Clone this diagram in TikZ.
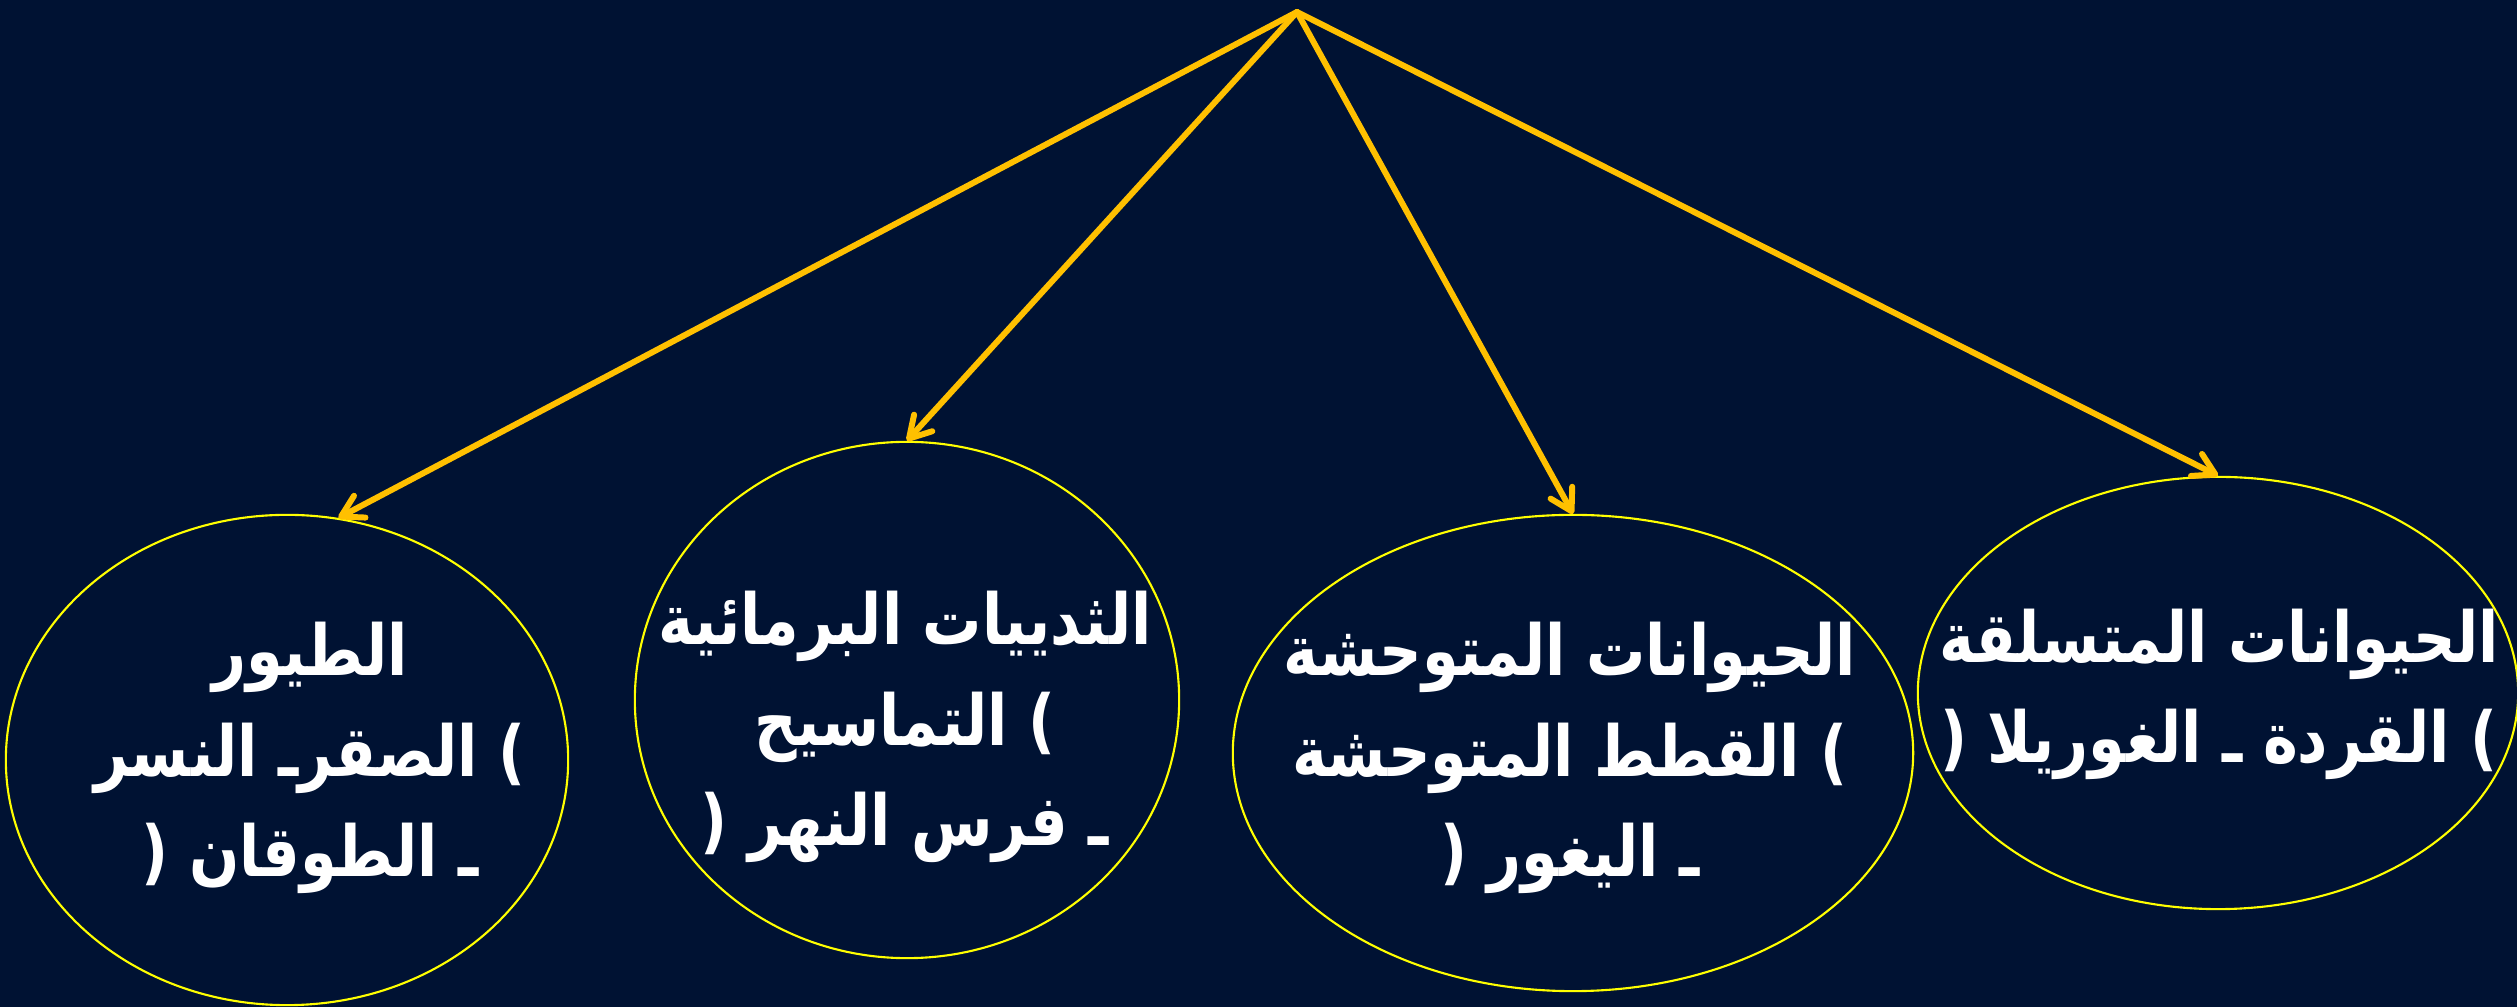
\documentclass[tikz,border=0pt]{standalone}
\usepackage{fontspec}
\newfontfamily\arabicfont[Script=Arabic,FakeStretch=0.84]{DejaVu Sans}
\TeXXeTstate=1
\usetikzlibrary{shapes.geometric,arrows.meta}
\definecolor{bgnavy}{HTML}{001233}
\definecolor{arrowgold}{HTML}{FFC000}
\definecolor{rimyellow}{HTML}{FFFF00}
\tikzset{
  group/.style={ellipse,draw=rimyellow,line width=0.6pt,inner sep=0pt},
  grouptext/.style={text=white,align=center,inner sep=0pt,
    font=\arabicfont\bfseries\fontsize{20}{28.5}\selectfont},
  branch/.style={arrowgold,line width=1.7pt,line cap=round,-{Straight Barb[length=6pt,width=7pt,round]}}
}

\begin{document}
\begin{tikzpicture}[x=0.01cm,y=-0.01cm]
\path[use as bounding box,fill=bgnavy] (0,0) rectangle (2517,1007);
\coordinate (top) at (1297,12);
\node[group,minimum width=5.62cm,minimum height=4.90cm] (e1) at (287,760) {};
\node[group,minimum width=5.44cm,minimum height=5.16cm] (e2) at (907,700) {};
\node[group,minimum width=6.80cm,minimum height=4.76cm] (e3) at (1573,753) {};
\node[group,minimum width=6.00cm,minimum height=4.32cm] (e4) at (2218,693) {};
\node[grouptext] (t1) at (310,758)
  {\beginR الطيور\endR\\ \beginR ) الصقرـ النسر\endR\\ \beginR ـ الطوقان  (\endR};
\node[grouptext] (t2) at (905,727)
  {\beginR الثدييات البرمائية\endR\\ \beginR ) التماسيح\endR\\ \beginR ـ فرس النهر (\endR};
\node[grouptext] (t3) at (1570,758)
  {\beginR الحيوانات المتوحشة\endR\\ \beginR ) القطط المتوحشة\endR\\ \beginR ـ اليغور (\endR};
\node[grouptext] (t4) at (2219,694)
  {\beginR الحيوانات المتسلقة\endR\\ \beginR ) القردة ـ الغوريلا (\endR};
\foreach \g/\a in {e1/78,e2/north,e3/north,e4/north}
  \draw[branch] (top) -- (\g.\a);
\end{tikzpicture}
\end{document}
